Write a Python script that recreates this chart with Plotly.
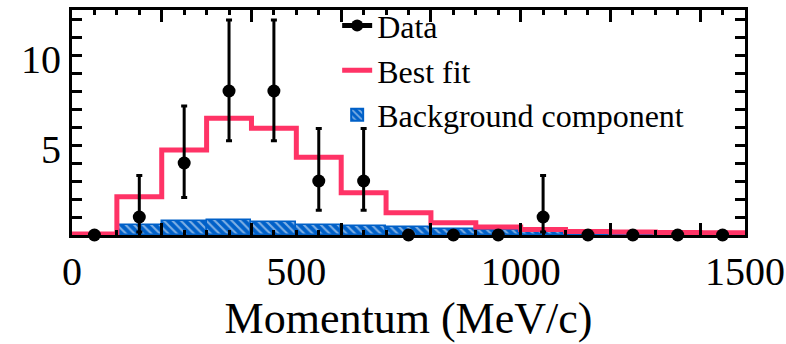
import plotly.graph_objects as go

# ---- data ----
bin_centers = [50, 150, 250, 350, 450, 550, 650, 750, 850, 950, 1050, 1150, 1250, 1350, 1450]
bin_width = 100
data_counts = [0, 1, 4, 8, 8, 3, 3, 0, 0, 0, 1, 0, 0, 0, 0]
err_up = [0, 2.30, 3.16, 3.94, 3.94, 2.92, 2.92, 0, 0, 0, 2.30, 0, 0, 0, 0]
err_down = [0, 0.83, 1.91, 2.77, 2.77, 1.63, 1.63, 0, 0, 0, 0.83, 0, 0, 0, 0]
fit_values = [0.05, 2.13, 4.72, 6.48, 5.93, 4.32, 2.35, 1.24, 0.68, 0.44, 0.30, 0.20, 0.16, 0.14, 0.12]
bg_values = [0, 0.55, 0.78, 0.82, 0.70, 0.55, 0.48, 0.42, 0.36, 0.30, 0.26, 0.12, 0.10, 0.08, 0.06]
x_label_ticks = [0, 500, 1000, 1500]
x_major_ticks = [0, 200, 400, 600, 800, 1000, 1200, 1400]
y_label_ticks = [5, 10]

RED = "#ff3366"
BLUE = "#0060c8"
FONT = "Liberation Serif"

edges = [c - bin_width / 2 for c in bin_centers] + [bin_centers[-1] + bin_width / 2]
step_y = fit_values + [fit_values[-1]]

fig = go.Figure()

fig.add_trace(go.Bar(
    x=bin_centers, y=bg_values, width=bin_width,
    name="Background component", legendrank=3,
    marker=dict(color=BLUE, line=dict(color=BLUE, width=1.5),
                pattern=dict(shape="\\", fgcolor="white", bgcolor=BLUE,
                             size=6, solidity=0.35)),
))

fig.add_trace(go.Scatter(
    x=edges, y=step_y, mode="lines", line_shape="hv",
    line=dict(color=RED, width=5), name="Best fit", legendrank=2,
))

fig.add_trace(go.Scatter(
    x=bin_centers, y=data_counts, mode="markers", showlegend=False,
    marker=dict(color="black", size=13),
    error_y=dict(type="data", symmetric=False, array=err_up, arrayminus=err_down,
                 color="black", thickness=3, width=3),
    cliponaxis=False,
))

# legend-only entry for data (marker with line); lives on the label axis x2
fig.add_trace(go.Scatter(
    x=[None], y=[None], mode="lines+markers", name="Data", legendrank=1,
    xaxis="x2", yaxis="y",
    line=dict(color="black", width=3), marker=dict(color="black", size=11),
))

fig.update_layout(
    width=786, height=344,
    margin=dict(l=72, r=41, t=10, b=109, autoexpand=False),
    paper_bgcolor="white", plot_bgcolor="white",
    font=dict(family=FONT, color="black", size=32),
    bargap=0,
    showlegend=True,
    legend=dict(x=0.394, y=1.052, xanchor="left", yanchor="top",
                bgcolor="rgba(0,0,0,0)", font=dict(size=32, family=FONT),
                itemsizing="constant"),
    xaxis=dict(
        range=[0, 1500], showgrid=False, zeroline=False, automargin=False,
        showline=True, linecolor="black", linewidth=3, mirror="allticks",
        ticks="inside", tickvals=x_major_ticks, ticklen=12, tickwidth=2.5,
        tickcolor="black", showticklabels=False,
        minor=dict(dtick=50, tick0=0, ticks="inside", ticklen=5, tickwidth=2.5,
                   tickcolor="black", showgrid=False),
    ),
    xaxis2=dict(
        overlaying="x", anchor="y", side="bottom", automargin=False,
        range=[0, 1500], showgrid=False, zeroline=False, showline=False,
        ticks="", tickvals=x_label_ticks,
        tickfont=dict(size=40, family=FONT), ticklabelstandoff=9,
        title=dict(text="Momentum (MeV/c)", font=dict(size=44, family=FONT), standoff=4),
    ),
    yaxis=dict(
        range=[0, 12.5], showgrid=False, zeroline=False, automargin=False,
        showline=True, linecolor="black", linewidth=3, mirror="allticks",
        ticks="inside", tickvals=y_label_ticks, ticklen=10, tickwidth=2.5,
        tickcolor="black", tickfont=dict(size=40, family=FONT), ticklabelshift=4,
        minor=dict(dtick=1, tick0=0, ticks="inside", ticklen=5, tickwidth=2.5,
                   tickcolor="black", showgrid=False),
    ),
)

fig.write_html("out.html", config={"displayModeBar": False},
               post_script="document.body.style.margin='0';")
